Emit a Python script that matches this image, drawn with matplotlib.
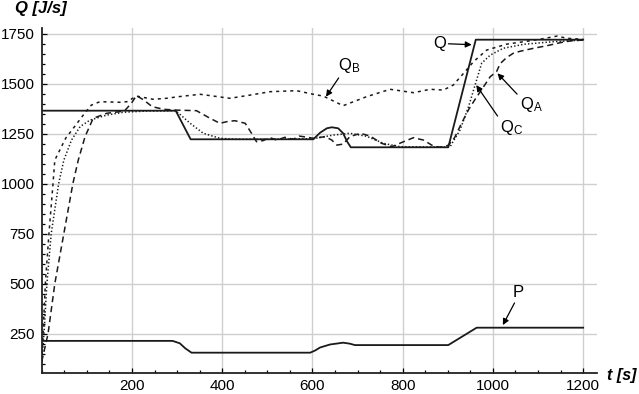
import matplotlib
matplotlib.use("Agg")
import matplotlib.pyplot as plt
from matplotlib.ticker import MultipleLocator

plt.rcParams['font.family'] = ['Liberation Sans', 'DejaVu Sans']
plt.rcParams['mathtext.fontset'] = 'custom'
plt.rcParams['mathtext.rm'] = 'Liberation Sans'
plt.rcParams['mathtext.it'] = 'Liberation Sans:italic'

# ---- data ----
t_Q = [0, 297, 330, 602, 617, 632, 643, 657, 668, 677, 685, 901, 962, 1200]
Q = [1365, 1365, 1222, 1222, 1255, 1277, 1282, 1277, 1252, 1210, 1182, 1182, 1720, 1720]

t_P = [0, 290, 306, 318, 332, 595, 606, 617, 639, 668, 683, 694, 901, 964, 1200]
P = [214, 214, 202, 177, 155, 155, 166, 181, 196, 205, 200, 193, 193, 280, 280]

t_QA = [0, 14, 29, 49, 69, 81, 96, 114, 144, 173, 185, 198, 210, 225, 245, 270, 297,
        343, 373, 395, 410, 428, 451, 465, 476, 490, 506, 521, 539, 557, 571, 589,
        602, 628, 643, 654, 668, 683, 706, 728, 753, 776, 802, 824, 846, 868, 883,
        901, 915, 930, 946, 960, 972, 994, 1008, 1016, 1030, 1045, 1060, 1090, 1120,
        1149, 1175, 1200]
QA = [110, 250, 500, 750, 1000, 1118, 1235, 1327, 1352, 1360, 1368, 1400, 1440, 1420,
      1385, 1372, 1368, 1365, 1327, 1302, 1310, 1315, 1302, 1252, 1210, 1215, 1230,
      1218, 1232, 1222, 1238, 1232, 1227, 1235, 1218, 1193, 1198, 1235, 1252, 1238,
      1202, 1185, 1210, 1230, 1218, 1188, 1182, 1192, 1230, 1300, 1370, 1420, 1460,
      1535, 1560, 1600, 1630, 1652, 1662, 1677, 1690, 1705, 1715, 1718]

t_QB = [0, 3, 8, 16, 25, 29, 53, 70, 92, 110, 129, 173, 189, 210, 247, 277, 303, 351,
        417, 462, 506, 565, 602, 624, 668, 720, 772, 824, 861, 890, 912, 935, 957, 986,
        1031, 1075, 1104, 1142, 1164, 1200]
QB = [110, 250, 500, 750, 1000, 1118, 1227, 1277, 1343, 1393, 1410, 1407, 1410, 1438,
      1422, 1427, 1435, 1447, 1427, 1443, 1460, 1465, 1447, 1438, 1390, 1435, 1472,
      1455, 1472, 1468, 1493, 1552, 1610, 1668, 1698, 1712, 1722, 1738, 1727, 1722]

t_QC = [0, 5, 11.5, 21, 37.5, 49, 66, 85, 107, 144, 181, 230, 297, 329, 358, 395, 430,
        500, 560, 602, 646, 683, 720, 757, 794, 900, 905, 927, 946, 960, 975, 994,
        1023, 1068, 1134, 1200]
QC = [110, 250, 500, 750, 1000, 1118, 1218, 1285, 1318, 1343, 1357, 1363, 1365, 1302,
      1252, 1227, 1222, 1222, 1224, 1225, 1243, 1252, 1237, 1202, 1185, 1183, 1185,
      1268, 1385, 1490, 1602, 1643, 1677, 1697, 1710, 1718]

x_ticks = [200, 400, 600, 800, 1000, 1200]
y_ticks = [250, 500, 750, 1000, 1250, 1500, 1750]

# ---- figure ----
fig = plt.figure(figsize=(6.39, 3.94), dpi=100)
ax = fig.add_axes([0.0653, 0.0541, 0.8685, 0.8741])

lc = '#1a1a1a'
ax.plot(t_Q, Q, color=lc, lw=1.3, solid_joinstyle='round')
ax.plot(t_P, P, color=lc, lw=1.3)
ax.plot(t_QA, QA, color=lc, lw=1.1, linestyle=(0, (4.0, 2.6)))
ax.plot(t_QB, QB, color=lc, lw=1.1, linestyle=(0, (2.0, 2.6)))
ax.plot(t_QC, QC, color=lc, lw=1.1, linestyle=(0, (0.9, 1.4)))

ax.set_xlim(0, 1230)
ax.set_ylim(55, 1777)
ax.set_xticks(x_ticks)
ax.set_yticks(y_ticks)
ax.xaxis.set_minor_locator(MultipleLocator(50))
ax.yaxis.set_minor_locator(MultipleLocator(50))
ax.tick_params(which='both', direction='in', labelsize=11, colors='k', width=0.9)
ax.tick_params(which='major', length=3.5, pad=5)
ax.tick_params(which='minor', length=2.2)
ax.tick_params(axis='x', pad=4.5)
ax.grid(True, which='major', color='#cfcfcf', lw=1.0)
ax.set_axisbelow(True)
for s in ['top', 'right']:
    ax.spines[s].set_visible(False)
for s in ['left', 'bottom']:
    ax.spines[s].set_linewidth(1.3)
    ax.spines[s].set_color('#222222')

# axis labels
fig.text(0.023, 0.978, 'Q [J/s]', fontsize=12, fontweight='bold', fontstyle='italic',
         ha='left', va='center')
fig.text(0.950, 0.048, 't [s]', fontsize=11.5, fontweight='bold', fontstyle='italic',
         ha='left', va='center')

# annotations
ap = dict(arrowstyle='-|>', color='k', lw=0.9, mutation_scale=9, shrinkA=0, shrinkB=0)
ax.annotate(r'$\mathrm{Q}_{\mathrm{B}}$', xy=(630, 1435), xytext=(682, 1590),
            fontsize=12, ha='center', va='center', arrowprops=dict(ap, relpos=(0.1, 0.0)))
ax.annotate('Q', xy=(953, 1695), xytext=(881, 1700), fontsize=12, ha='center',
            va='center', arrowprops=dict(ap, relpos=(1.0, 0.5)))
ax.annotate(r'$\mathrm{Q}_{\mathrm{A}}$', xy=(1010, 1552), xytext=(1085, 1395),
            fontsize=12, ha='center', va='center', arrowprops=dict(ap, relpos=(0.0, 0.9)))
ax.annotate(r'$\mathrm{Q}_{\mathrm{C}}$', xy=(963, 1493), xytext=(1042, 1280),
            fontsize=12, ha='center', va='center', arrowprops=dict(ap, relpos=(0.0, 0.9)))
ax.annotate('P', xy=(1022, 293), xytext=(1056, 455), fontsize=12, ha='center',
            va='center', arrowprops=dict(ap, relpos=(0.3, 0.0)))

fig.savefig('out.png', dpi=100)
